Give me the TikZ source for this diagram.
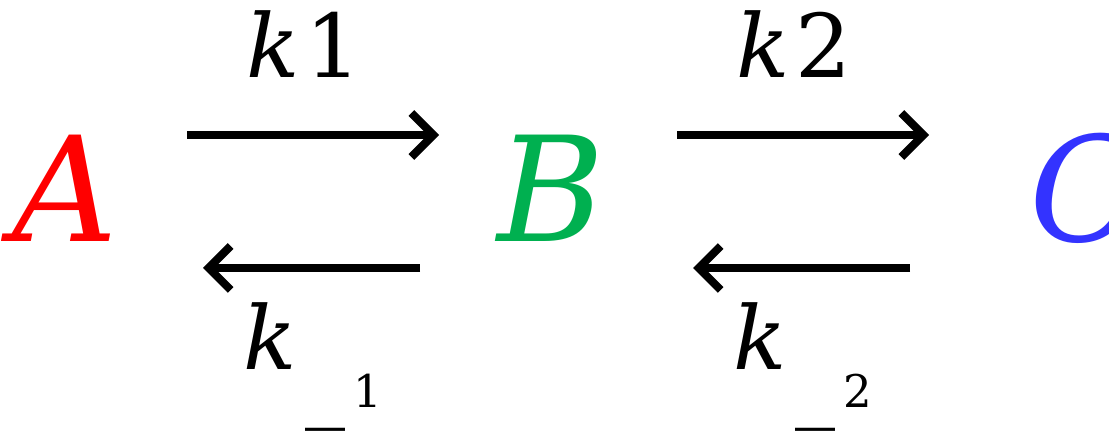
\documentclass[tikz,border=0pt]{standalone}
\usepackage{fontspec}
\setmainfont{DejaVu Serif}
\usetikzlibrary{arrows.meta}
\definecolor{cred}{RGB}{255,0,0}
\definecolor{cgreen}{RGB}{0,176,80}
\definecolor{cblue}{RGB}{51,51,255}
\begin{document}
\begin{tikzpicture}[x=1pt,y=-1pt,
  species/.style={inner sep=0pt, anchor=base, font=\fontsize{146}{146}\selectfont\itshape},
  rlabel/.style={inner sep=0pt, anchor=base, font=\fontsize{88}{88}\selectfont},
  klabel/.style={inner sep=0pt, anchor=base, font=\fontsize{88}{88}\selectfont\itshape},
  uscore/.style={inner sep=0pt, anchor=base, font=\fontsize{80}{80}\selectfont},
  sublabel/.style={inner sep=0pt, anchor=base, font=\fontsize{45}{45}\selectfont},
  rxn/.style={line width=8pt, -{Straight Barb[length=22pt,width=44pt,line width=8pt]}}
]
\useasboundingbox (0,0) rectangle (1109,435);
% species
\node[species, text=cred] (A) at (65,242) {A};
\node[species, text=cgreen] (B) at (551,242) {B};
\node[species, text=cblue] (C) at (1085,242) {C};
% arrow end points
\coordinate (f1s) at (187,135);
\coordinate (f1e) at (439,135);
\coordinate (b1s) at (420,268);
\coordinate (b1e) at (203,268);
\coordinate (f2s) at (677,135);
\coordinate (f2e) at (929,135);
\coordinate (b2s) at (910,268);
\coordinate (b2e) at (693,268);
\draw[rxn] (f1s) -- (f1e);
\draw[rxn] (b1s) -- (b1e);
\draw[rxn] (f2s) -- (f2e);
\draw[rxn] (b2s) -- (b2e);
% rate labels
\node[rlabel] (k1) at (304,78) {\textit{k}\kern6pt 1};
\node[rlabel] (k2) at (794,78) {\textit{k}\kern6pt 2};
\node[klabel] (km1k) at (270,370) {k};
\node[uscore] (km1u) at (325,413) {\_};
\node[sublabel] (km1n) at (368,408) {1};
\node[klabel] (km2k) at (760,370) {k};
\node[uscore] (km2u) at (815,413) {\_};
\node[sublabel] (km2n) at (858,408) {2};
\end{tikzpicture}
\end{document}
